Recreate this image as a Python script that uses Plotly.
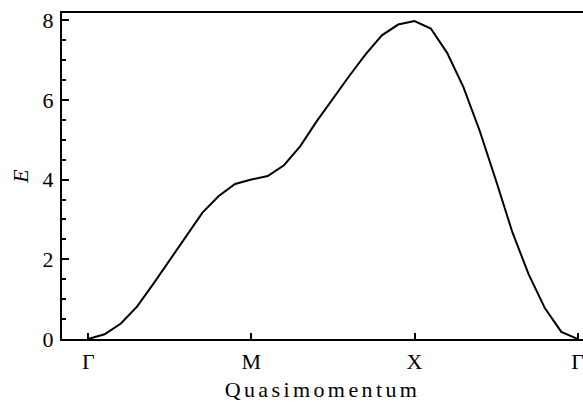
import plotly.graph_objects as go

# Path positions (Γ=0, M=1, X=2, Γ=3) sampled every 0.1
k_path = [0.0, 0.1, 0.2, 0.3, 0.4, 0.5, 0.6, 0.7, 0.8, 0.9,
          1.0, 1.1, 1.2, 1.3, 1.4, 1.5, 1.6, 1.7, 1.8, 1.9,
          2.0, 2.1, 2.2, 2.3, 2.4, 2.5, 2.6, 2.7, 2.8, 2.9, 3.0]
energy = [0.0, 0.12, 0.39, 0.82, 1.39, 1.98, 2.59, 3.17, 3.59, 3.89,
          4.0, 4.09, 4.36, 4.84, 5.46, 6.04, 6.6, 7.14, 7.62, 7.89,
          7.98, 7.79, 7.18, 6.32, 5.22, 3.97, 2.68, 1.62, 0.77, 0.18, 0.0]

tick_pos = [0, 1, 2, 3]
tick_labels = ["Γ", "M", "X", "Γ"]
y_major = [0, 2, 4, 6, 8]

FONT = "Liberation Serif"

fig = go.Figure()
fig.add_trace(go.Scatter(x=k_path, y=energy, mode="lines",
                         line=dict(color="black", width=2),
                         showlegend=False, hoverinfo="skip"))

fig.update_layout(
    width=583, height=408,
    margin=dict(l=62, r=0, t=13, b=69),
    paper_bgcolor="white", plot_bgcolor="white",
    font=dict(family=FONT, size=22, color="black"),
    xaxis=dict(
        range=[-0.161, 3.033],
        tickmode="array", tickvals=tick_pos, ticktext=tick_labels,
        ticks="inside", ticklen=6, tickwidth=1.5, tickcolor="black",
        showline=True, linewidth=2, linecolor="black", mirror=True,
        showgrid=False, zeroline=False,
        tickfont=dict(family=FONT, size=22, color="black"),
        ticklabeloverflow="allow", ticklabelstandoff=2,
        title=dict(text='<span style="letter-spacing:3.4px">Quasimomentum</span>',
                   font=dict(family=FONT, size=22, color="black"), standoff=8),
    ),
    yaxis=dict(
        range=[0, 8.18],
        tickmode="array", tickvals=y_major,
        ticks="inside", ticklen=7, tickwidth=1.5, tickcolor="black",
        minor=dict(dtick=0.5, ticks="inside", ticklen=4, tickwidth=1.5,
                   tickcolor="black", showgrid=False),
        showline=True, linewidth=2, linecolor="black",
        showgrid=False, zeroline=False,
        tickfont=dict(family=FONT, size=22, color="black"),
        ticklabelstandoff=2,
        title=dict(text="<i>E</i>", font=dict(family=FONT, size=22, color="black"),
                   standoff=8),
    ),
    yaxis2=dict(
        range=[0, 8.18], overlaying="y", side="right",
        tickmode="array", tickvals=[2, 4, 6, 8],
        ticks="inside", ticklen=2, tickwidth=1, tickcolor="#b0b0b0",
        showticklabels=False, showline=False, showgrid=False, zeroline=False,
    ),
)

fig.write_html("out.html")
